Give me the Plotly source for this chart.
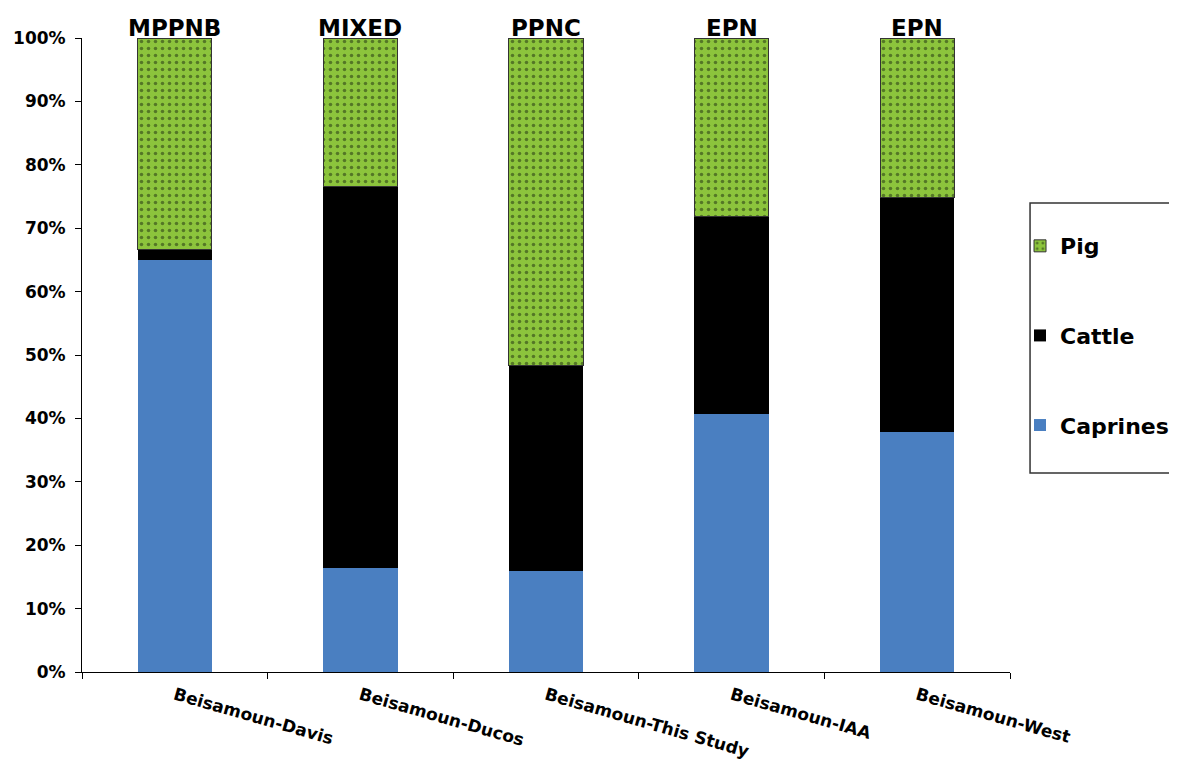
import plotly.graph_objects as go

sites = ["Beisamoun-Davis", "Beisamoun-Ducos", "Beisamoun-This Study", "Beisamoun-IAA", "Beisamoun-West"]
periods = ["MPPNB", "MIXED", "PPNC", "EPN", "EPN"]
caprines = [65.0, 16.4, 15.9, 40.7, 37.9]
cattle = [1.6, 60.1, 32.4, 31.2, 36.9]
pig = [33.4, 23.5, 51.7, 28.1, 25.2]

font_family = "DejaVu Sans, Liberation Sans, Arial, sans-serif"

fig = go.Figure()
fig.add_trace(go.Bar(
    x=sites, y=caprines, name="<b>Caprines</b>", legendgroup="c", legendrank=3,
    marker=dict(color="#4a7fc1", line=dict(width=0)),
))
fig.add_trace(go.Bar(
    x=sites, y=cattle, name="<b>Cattle</b>", legendgroup="b", legendrank=2,
    marker=dict(color="#000000", line=dict(width=0)),
))
fig.add_trace(go.Bar(
    x=sites, y=pig, name="<b>Pig</b>", legendgroup="a", legendrank=1,
    marker=dict(color="#8cc43c", line=dict(width=1, color="#333333"),
                pattern=dict(shape=".", fgcolor="#1c2a10", bgcolor="#8cc43c",
                             size=7, solidity=0.2)),
))

for s, p in zip(sites, periods):
    fig.add_annotation(x=s, y=100, xref="x", yref="y", text=f"<b>{p}</b>",
                       showarrow=False, yanchor="bottom", yshift=-5,
                       font=dict(size=23, color="#000000", family=font_family))

# legend frame
fig.add_shape(type="rect", xref="paper", yref="paper",
              x0=1.0216, x1=1.1778, y0=0.3139, y1=0.7397,
              line=dict(color="#333333", width=1.5), fillcolor="rgba(0,0,0,0)")

fig.update_layout(
    barmode="stack",
    bargap=0.6,
    width=1169, height=757,
    margin=dict(l=74, r=167, t=30, b=93, autoexpand=False),
    plot_bgcolor="white", paper_bgcolor="white",
    font=dict(family=font_family, color="#000000"),
    legend=dict(
        x=1.0108, xanchor="left", y=0.705, yanchor="top",
        traceorder="grouped", tracegroupgap=58,
        borderwidth=0, bgcolor="rgba(0,0,0,0)",
        font=dict(size=22, family=font_family, color="#000000"),
        itemwidth=30,
    ),
    xaxis=dict(
        showline=True, linecolor="#000000", linewidth=1,
        ticks="outside", tickson="boundaries", ticklen=6, tickcolor="#000000",
        tickangle=16, ticklabelstandoff=6, automargin=False,
        tickfont=dict(size=17, family=font_family, color="#000000", weight="bold"),
        showgrid=False,
    ),
    yaxis=dict(
        range=[0, 100], dtick=10, ticksuffix="%",
        showline=True, linecolor="#000000", linewidth=1, automargin=False,
        ticks="outside", ticklen=6, tickcolor="#000000", ticklabelstandoff=6,
        tickfont=dict(size=17, family=font_family, color="#000000", weight="bold"),
        showgrid=False, zeroline=False,
    ),
    showlegend=True,
)

fig.write_html("out.html")
